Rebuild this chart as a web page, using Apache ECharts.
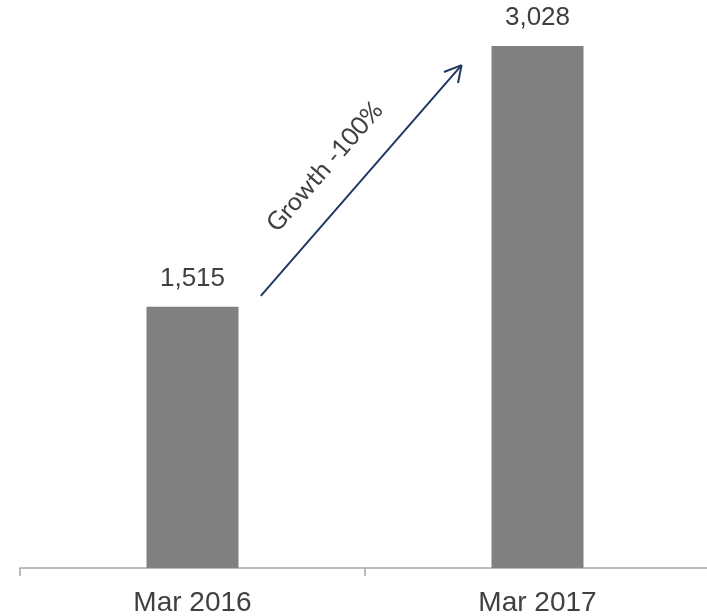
<!DOCTYPE html>
<html>
<head>
<meta charset="utf-8">
<script src="https://cdn.jsdelivr.net/npm/echarts@6/dist/echarts.min.js"></script>
<style>
html,body{margin:0;padding:0;background:#fff;}
#c{width:707px;height:616px;}
</style>
</head>
<body>
<div id="c"></div>
<script>
// ---- data ----
const categories = ['Mar 2016', 'Mar 2017'];
const values = [1515, 3028];
const growthText = 'Growth -100%';
// arrow annotation in data space: [category position, value]
const arrowStart = [0.198, 1578];
const arrowTip = [0.780, 2917];
const arrowArmA = [0.729, 2877];
const arrowArmB = [0.7696, 2813];

const chart = echarts.init(document.getElementById('c'));
const arrowColor = '#1f3864';
chart.setOption({
  animation: false,
  grid: { left: 20, right: -3, top: 46, bottom: 48, containLabel: false, outerBoundsMode: 'none' },
  xAxis: [
    {
      type: 'category',
      data: categories,
      axisLine: { show: true, lineStyle: { color: '#a6a6a6', width: 1.5 } },
      axisTick: { show: true, length: 8, lineStyle: { color: '#a6a6a6', width: 1.5 } },
      axisLabel: { margin: 21, fontSize: 28, color: '#404040', fontFamily: 'Liberation Sans, Arial, sans-serif' }
    },
    { type: 'value', min: -0.5, max: 1.5, show: false }
  ],
  yAxis: { type: 'value', min: 0, max: 3028, show: false, splitLine: { show: false } },
  series: [
    {
      type: 'bar',
      data: values,
      barWidth: 92,
      itemStyle: { color: '#808080' },
      label: {
        show: true, position: 'top', distance: 15,
        fontSize: 26, color: '#404040', fontFamily: 'Liberation Sans, Arial, sans-serif',
        formatter: p => p.value.toLocaleString('en-US')
      }
    },
    {
      type: 'line',
      xAxisIndex: 1,
      data: [arrowStart, arrowTip],
      symbol: 'none',
      lineStyle: { opacity: 0 },
      silent: true,
      markLine: {
        silent: true,
        symbol: ['none', 'none'],
        animation: false,
        lineStyle: { color: arrowColor, width: 2, type: 'solid' },
        label: { show: false },
        data: [
          [{ coord: arrowStart, label: { show: true, position: 'insideMiddleTop', distance: 24, formatter: growthText,
              fontSize: 25, color: '#404040', fontFamily: 'Lato, Open Sans, sans-serif', padding: [0, 27, 0, 0] } },
           { coord: arrowTip }],
          [{ coord: arrowArmA }, { coord: arrowTip }],
          [{ coord: arrowArmB }, { coord: arrowTip }]
        ]
      }
    }
  ]
});
</script>
</body>
</html>
